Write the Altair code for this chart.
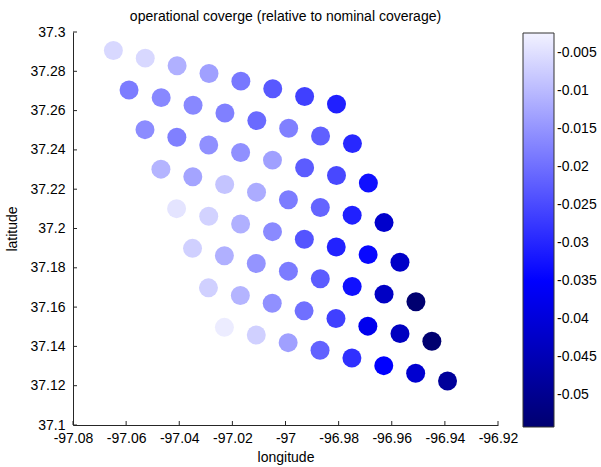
import altair as alt
import pandas as pd

FONT = "Liberation Sans"

# longitude of each marker, one list per diagonal row (top row first)
lon_rows = [
    [-97.0648, -97.0528, -97.0408, -97.0288, -97.0168, -97.0048, -96.9928, -96.9808],
    [-97.0589, -97.0468, -97.0348, -97.0228, -97.0108, -96.9988, -96.9868, -96.9748],
    [-97.0529, -97.0409, -97.0289, -97.0169, -97.0049, -96.9928, -96.9808, -96.9688],
    [-97.0469, -97.0349, -97.0229, -97.0109, -96.9989, -96.9869, -96.9749, -96.9629],
    [-97.0410, -97.0289, -97.0169, -97.0049, -96.9929, -96.9809, -96.9689, -96.9569],
    [-97.0350, -97.0230, -97.0110, -96.9989, -96.9869, -96.9749, -96.9629, -96.9509],
    [-97.0290, -97.0170, -97.0050, -96.9930, -96.9810, -96.9690, -96.9569, -96.9449],
    [-97.0230, -97.0110, -96.9990, -96.9870, -96.9750, -96.9630, -96.9510, -96.9390],
]
# latitude of each marker
lat_rows = [
    [37.2906, 37.2867, 37.2828, 37.2789, 37.2750, 37.2711, 37.2672, 37.2633],
    [37.2705, 37.2666, 37.2627, 37.2588, 37.2549, 37.2510, 37.2471, 37.2432],
    [37.2503, 37.2464, 37.2425, 37.2387, 37.2348, 37.2309, 37.2270, 37.2231],
    [37.2302, 37.2263, 37.2224, 37.2185, 37.2146, 37.2107, 37.2068, 37.2030],
    [37.2101, 37.2062, 37.2023, 37.1984, 37.1945, 37.1906, 37.1867, 37.1828],
    [37.1899, 37.1861, 37.1822, 37.1783, 37.1744, 37.1705, 37.1666, 37.1627],
    [37.1698, 37.1659, 37.1620, 37.1581, 37.1542, 37.1503, 37.1465, 37.1426],
    [37.1497, 37.1458, 37.1419, 37.1380, 37.1341, 37.1302, 37.1263, 37.1224],
]
# operational coverage relative to nominal coverage
val_rows = [
    [-0.0059, -0.0059, -0.0113, -0.0134, -0.0188, -0.0231, -0.0264, -0.0307],
    [-0.0183, -0.0167, -0.0167, -0.0178, -0.0207, -0.0178, -0.0221, -0.0296],
    [-0.0161, -0.0178, -0.0156, -0.0156, -0.0134, -0.0226, -0.0253, -0.0328],
    [-0.0108, -0.0129, -0.0086, -0.0118, -0.0183, -0.0215, -0.0307, -0.0418],
    [-0.0043, -0.0067, -0.0113, -0.0164, -0.0237, -0.0304, -0.0339, -0.0424],
    [-0.0070, -0.0113, -0.0151, -0.0183, -0.0226, -0.0328, -0.0429, -0.0542],
    [-0.0070, -0.0108, -0.0156, -0.0199, -0.0264, -0.0373, -0.0435, -0.0542],
    [-0.0032, -0.0070, -0.0134, -0.0218, -0.0285, -0.0350, -0.0413, -0.0486],
]

x_ticks = [-97.08, -97.06, -97.04, -97.02, -97.0, -96.98, -96.96, -96.94, -96.92]
y_ticks = [37.1, 37.12, 37.14, 37.16, 37.18, 37.2, 37.22, 37.24, 37.26, 37.28, 37.3]
cb_ticks = [-0.05, -0.045, -0.04, -0.035, -0.03, -0.025, -0.02, -0.015, -0.01, -0.005]
cb_domain = [-0.0542, -0.035, -0.0024]
cb_colors = ["#000070", "#0000ff", "#f2f2ff"]

records = []
for lo_r, la_r, v_r in zip(lon_rows, lat_rows, val_rows):
    for lo, la, v in zip(lo_r, la_r, v_r):
        records.append({"lon": lo, "lat": la, "value": v})
df = pd.DataFrame(records)

PW, PH = 425, 393
AX = "#262626"

x_scale = alt.Scale(domain=[-97.08, -96.92], nice=False, zero=False)
y_scale = alt.Scale(domain=[37.1, 37.3], nice=False, zero=False)

points = alt.Chart(df).mark_circle(size=360, opacity=1).encode(
    x=alt.X("lon:Q", scale=x_scale, axis=alt.Axis(
        values=x_ticks, labelExpr="'' + datum.value", title="longitude",
        grid=False, ticks=False, tickSize=0, labelPadding=6, domainColor=AX,
        labelFontSize=14, labelFont=FONT, labelColor="#000", labelFlush=False,
        labelOverlap=False, titleFontSize=14, titleFont=FONT, titleColor="#000",
        titleFontWeight="normal", titleX=PW / 2, titleY=32, titleBaseline="middle")),
    y=alt.Y("lat:Q", scale=y_scale, axis=alt.Axis(
        values=y_ticks, labelExpr="'' + datum.value", title="latitude",
        grid=False, ticks=False, tickSize=0, labelPadding=8, domainColor=AX,
        labelFontSize=14, labelFont=FONT, labelColor="#000", labelFlush=False,
        labelOverlap=False, titleFontSize=14, titleFont=FONT, titleColor="#000",
        titleFontWeight="normal", titleX=-61, titleY=PH / 2, titleBaseline="middle")),
    color=alt.Color("value:Q", scale=alt.Scale(domain=cb_domain, range=cb_colors, interpolate="rgb"),
                    legend=alt.Legend(
                        orient="none", legendX=450, legendY=1, direction="vertical",
                        gradientLength=394, gradientThickness=31,
                        gradientStrokeColor="#333", gradientStrokeWidth=1,
                        values=cb_ticks, labelExpr="'' + datum.value",
                        labelFontSize=14, labelFont=FONT, labelColor="#000",
                        labelOffset=3, labelOverlap=False, title=None, padding=0)),
)

xt = alt.Chart(pd.DataFrame({"xt": x_ticks})).mark_rule(color=AX).encode(
    x=alt.X("xt:Q", scale=x_scale), y=alt.value(PH), y2=alt.value(PH - 4))

yt = alt.Chart(pd.DataFrame({"yt": y_ticks})).mark_rule(color=AX).encode(
    y=alt.Y("yt:Q", scale=y_scale, axis=None), x=alt.value(0), x2=alt.value(4))

cb_scale = alt.Scale(domain=[cb_domain[0], cb_domain[-1]], range=[395, 1], nice=False, zero=False)
cb_df = pd.DataFrame({"cb": cb_ticks})
cbl = alt.Chart(cb_df).mark_rule(color="#333").encode(
    y=alt.Y("cb:Q", scale=cb_scale, axis=None), x=alt.value(450), x2=alt.value(454))
cbr = alt.Chart(cb_df).mark_rule(color="#333").encode(
    y=alt.Y("cb:Q", scale=cb_scale, axis=None), x=alt.value(477), x2=alt.value(481))

chart = alt.layer(points, xt, yt, cbl, cbr).resolve_scale(y="independent").properties(
    width=PW, height=PH,
    background="white",
    padding={"left": 73, "top": 32, "right": 103, "bottom": 42},
    autosize=alt.AutoSizeParams(type="none"),
    title=alt.TitleParams(
        text="operational coverge (relative to nominal coverage)",
        fontSize=14, fontWeight="normal", font=FONT, color="#000",
        anchor="middle", offset=1),
).configure_view(strokeWidth=0, stroke="transparent")

chart.save("out.html", embed_options={"renderer": "svg", "actions": False})
